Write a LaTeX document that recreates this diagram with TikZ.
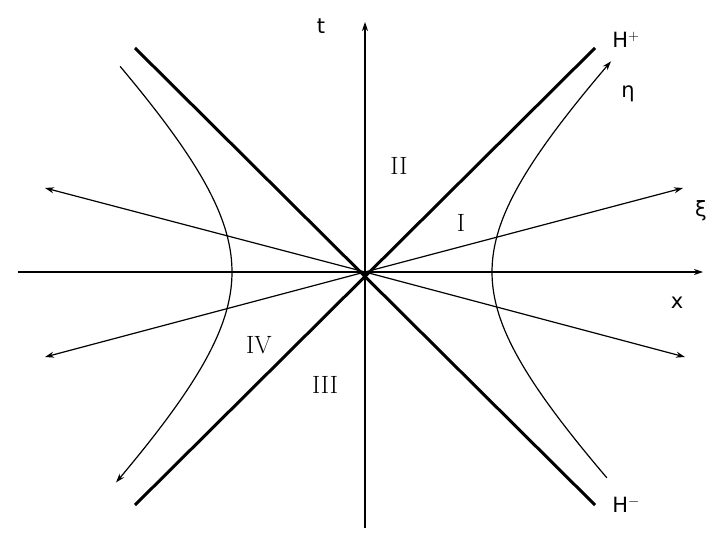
\documentclass[tikz,border=0pt]{standalone}
\usepackage{fontspec}
\usetikzlibrary{arrows.meta}
\newfontfamily\lblfont{DejaVu Sans}
\begin{document}
\begin{tikzpicture}[>={Stealth[length=9pt,width=6pt]}, x=1pt, y=-1pt, line width=1.2pt]
\useasboundingbox (0,0) rectangle (727,545);
\tikzset{axis/.style={->}, horizon/.style={line width=3pt}, sanslbl/.style={font=\lblfont\fontsize{21}{24}\selectfont}, reglbl/.style={font=\fontsize{25}{28}\selectfont}}
\coordinate (o) at (365,272);
\draw[axis](18,272)--(703,272);
\draw[axis](365,528)--(365,22);
\draw[horizon](135,505)--(595,48);
\draw[horizon](135,48)--(595,505);
\draw[axis](o)--(683,188);
\draw[axis](o)--(45,357);
\draw[axis](o)--(45,188);
\draw[axis](o)--(685,357);
% hyperbolas
\draw[->] plot[domain=-1.26:1.28, samples=60, smooth] ({365+127*cosh(\x)},{272-127*sinh(\x)});
\draw[->] plot[domain=1.22:-1.24, samples=60, smooth] ({365-133*cosh(\x)},{272-133*sinh(\x)});
\node[sanslbl] (t) at (321,26){t};
\node[sanslbl] (x) at (677,303){x};
\node[sanslbl] (xi) at (701,211){ξ};
\node[sanslbl] (eta) at (628,94){η};
\node[sanslbl] (hp) at (626,40){H$^+$};
\node[sanslbl] (hm) at (626,505){H$^-$};
\node[reglbl] (r1) at (461,223){I};
\node[reglbl] (r2) at (399,166){II};
\node[reglbl] (r3) at (325,385){III};
\node[reglbl] (r4) at (259,345){IV};
\end{tikzpicture}
\end{document}
